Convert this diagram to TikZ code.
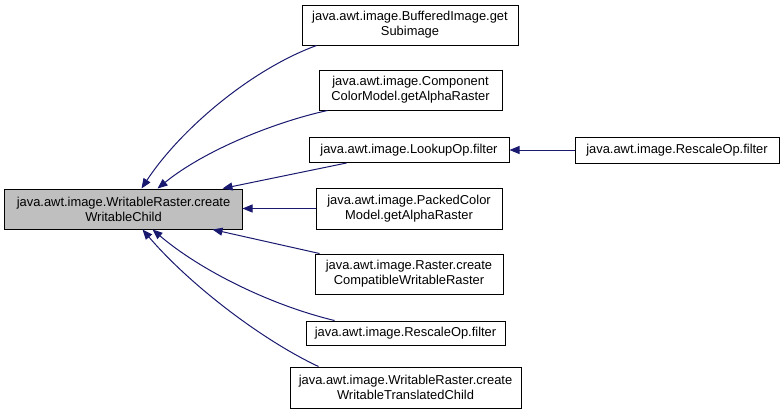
\documentclass[tikz,border=0pt]{standalone}
\usepackage{fontspec}
\setmainfont{Liberation Sans}
\usetikzlibrary{arrows.meta,calc}
\definecolor{edgeblue}{HTML}{191970}
\definecolor{mainfill}{HTML}{BFBFBF}
\begin{document}
\begin{tikzpicture}[x=1bp,y=-1bp,
  box/.style={draw=black,line width=1bp,fill=white,rectangle,inner sep=0pt,align=center,
    font=\fontsize{12.9bp}{15bp}\selectfont},
  edge/.style={draw=edgeblue,line width=1bp,-{Triangle[length=10bp,width=8bp]}}]
\useasboundingbox (0,0) rectangle (784,417);
\node[box,fill=mainfill,minimum width=237bp,minimum height=40bp] (main) at (123.5,209) {java.awt.image.WritableRaster.create\\WritableChild};
\node[box,minimum width=216bp,minimum height=40bp] (b1) at (410,25) {java.awt.image.BufferedImage.get\\Subimage};
\node[box,minimum width=183bp,minimum height=40bp] (b2) at (410.5,90) {java.awt.image.Component\\ColorModel.getAlphaRaster};
\node[box,minimum width=200bp,minimum height=25bp] (b3) at (409,150) {java.awt.image.LookupOp.filter};
\node[box,minimum width=186bp,minimum height=41bp] (b4) at (409,208.5) {java.awt.image.PackedColor\\Model.getAlphaRaster};
\node[box,minimum width=188bp,minimum height=40bp] (b5) at (409,274) {java.awt.image.Raster.create\\CompatibleWritableRaster};
\node[box,minimum width=199bp,minimum height=24bp] (b6) at (405.5,333) {java.awt.image.RescaleOp.filter};
\node[box,minimum width=231bp,minimum height=41bp] (b7) at (405.5,387.5) {java.awt.image.WritableRaster.create\\WritableTranslatedChild};
\node[box,minimum width=204bp,minimum height=26bp] (b8) at (677,150) {java.awt.image.RescaleOp.filter};

\draw[edge] ([xshift=15bp]b1.south west) .. controls (250,70) and (180,130) .. ([xshift=137bp]main.north west);
\draw[edge] ([xshift=9bp]b2.south west) .. controls (275,122) and (205,150) .. ([xshift=153bp]main.north west);
\draw[edge] ([xshift=38bp]b3.south west) -- ([xshift=218bp]main.north west);
\draw[edge] (b4.west) -- (main.east |- b4.west);
\draw[edge] ([xshift=5bp]b5.north west) -- ([xshift=208bp]main.south west);
\draw[edge] ([xshift=29bp]b6.north west) .. controls (270,305) and (200,270) .. ([xshift=148bp]main.south west);
\draw[edge] ([xshift=29bp]b7.north west) .. controls (262,340) and (190,285) .. ([xshift=138bp]main.south west);
\draw[edge] (b8.west) -- (b3.east |- b8.west);
\end{tikzpicture}
\end{document}
